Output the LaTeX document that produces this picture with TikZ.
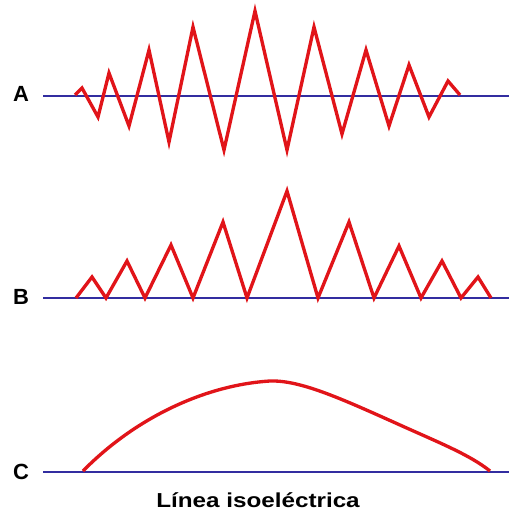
\documentclass[tikz,border=0pt]{standalone}
\usepackage{fontspec}
\setmainfont{Liberation Sans}
\usepackage{tikz}

\tikzset{
  trace/.style={draw={rgb,255:red,225;green,20;blue,25}, line width=1.9pt, line join=miter},
  iso/.style={draw={rgb,255:red,50;green,45;blue,160}, line width=1.6pt},
  lead/.style={font=\fontsize{12.5}{14}\selectfont\bfseries, inner sep=0pt},
  caption/.style={font=\fontsize{11.5}{13}\selectfont\bfseries, inner sep=0pt, xscale=1.2}
}

\begin{document}
\begin{tikzpicture}[x=0.02cm, y=-0.02cm]
\useasboundingbox (0,0) rectangle (509,510);
\node[lead] (la) at (21,94) {A};
\node[lead] (lb) at (21,297) {B};
\node[lead] (lc) at (21,472) {C};
\node[caption] (title) at (258,500) {Línea isoeléctrica};
\coordinate (a0) at (43,96);
\coordinate (a1) at (509,96);
\coordinate (b0) at (43,298);
\coordinate (b1) at (509,298);
\coordinate (c0) at (43,472);
\coordinate (c1) at (509,472);
% baselines
\draw[iso] (a0) -- (a1);
\draw[iso] (b0) -- (b1);
\draw[iso] (c0) -- (c1);
% A
\draw[trace] (75,95) -- (82,88) -- (98,117) -- (109,73) -- (129,126) -- (149,50)
  -- (169,142) -- (193,27) -- (224,150) -- (255,11) -- (287,150) -- (314,27)
  -- (342,134) -- (366,50) -- (389,126) -- (409,65) -- (429,117) -- (448,81) -- (460,95);
% B
\draw[trace] (76,298) -- (92,277) -- (106,298) -- (127,261) -- (145,298) -- (171,245)
  -- (193,298) -- (223,222) -- (247,298) -- (287,191) -- (318,298) -- (349,222)
  -- (374,298) -- (399,246) -- (421,298) -- (442,261) -- (461,298) -- (478,277) -- (491,298);
% C
\draw[trace] (83,471) .. controls (135,418) and (205,385) .. (270,381)
  .. controls (300,380) and (340,398) .. (400,425)
  .. controls (440,443) and (470,455) .. (490,471);
\end{tikzpicture}
\end{document}
